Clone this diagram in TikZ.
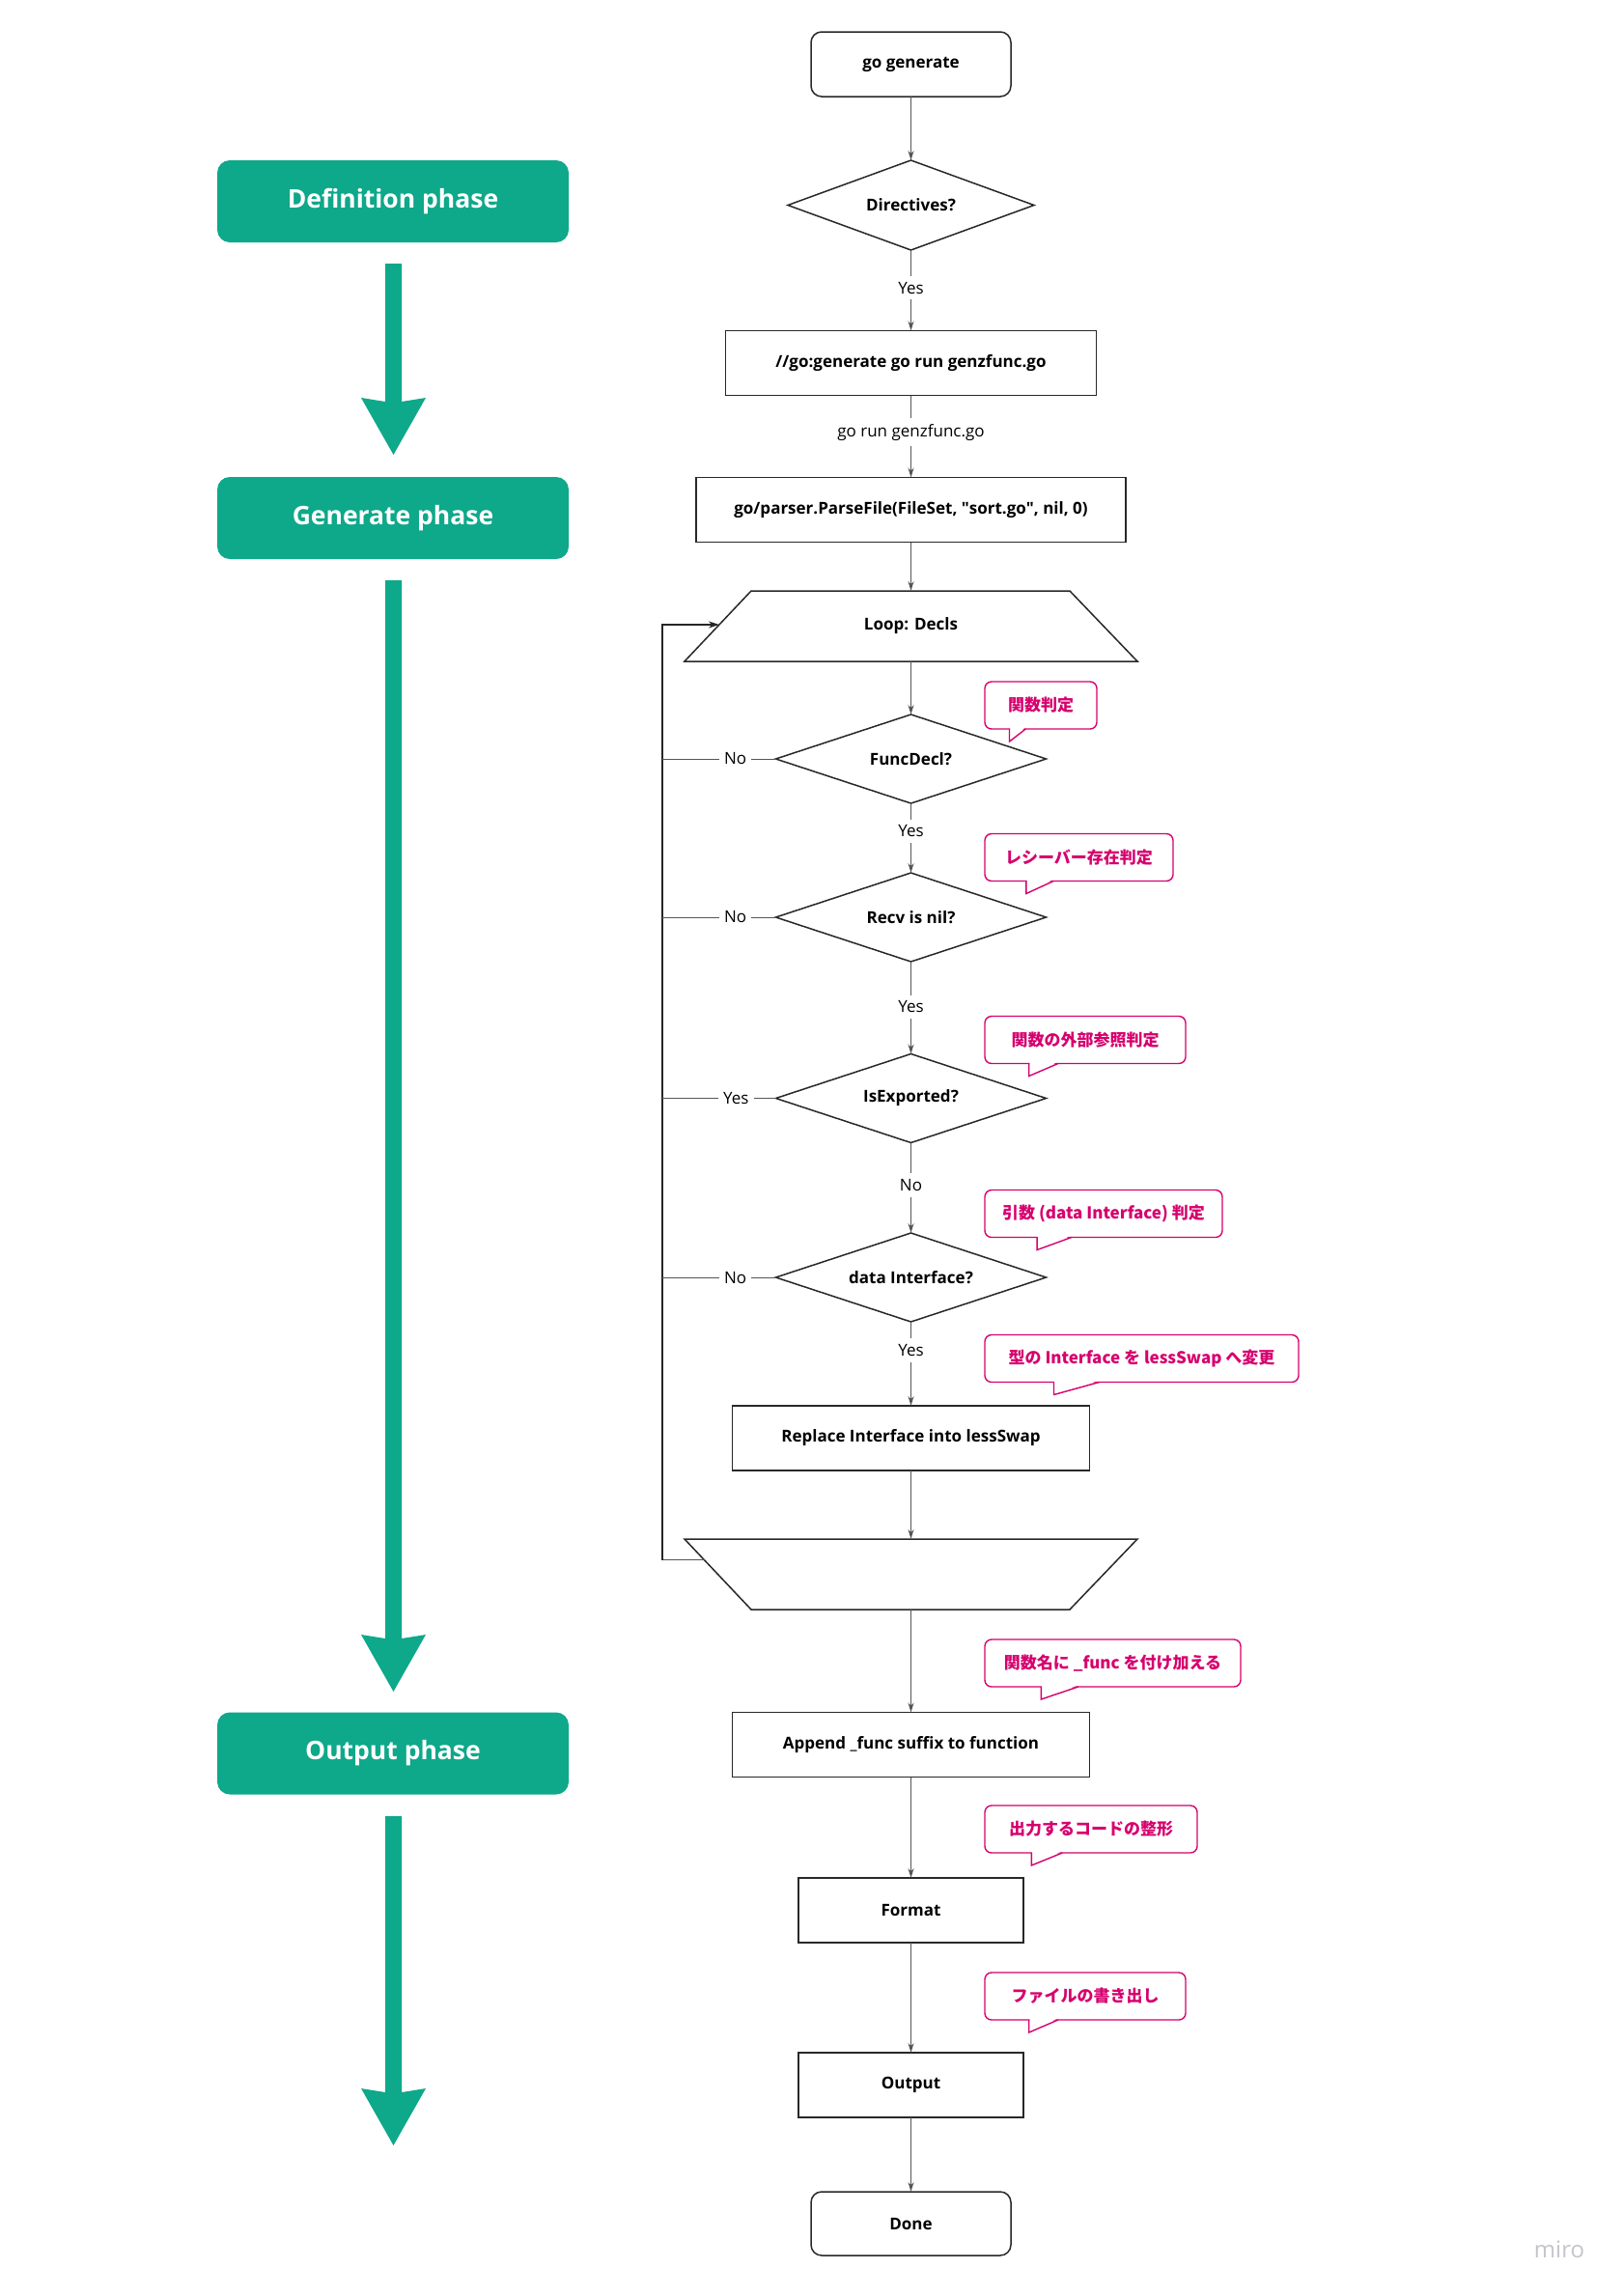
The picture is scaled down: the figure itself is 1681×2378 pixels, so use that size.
\documentclass[tikz,border=0pt]{standalone}
\usepackage{fontspec}
\setmainfont{Open Sans}
\newfontfamily\osq{Open Sans}
\newfontfamily\jp{Noto Sans CJK JP}
\usetikzlibrary{shapes.geometric,arrows.meta,calc}
\definecolor{miroGreen}{RGB}{14,168,138}
\definecolor{miroPink}{RGB}{214,0,110}
\definecolor{lineGray}{RGB}{85,85,85}
\definecolor{shapeLine}{RGB}{40,40,40}
\definecolor{logoGray}{RGB}{196,196,204}

\newcommand{\mkcallout}[4]{%
  \node[note, minimum width=#3pt] (#1) at (1020+#3/2,#2) {#4};
  \coordinate (#1-a) at ($(#1.south west)!0.22!(#1.south east)$);
  \coordinate (#1-b) at ($(#1.south west)!0.365!(#1.south east)$);
  \fill[white] ([xshift=0.8pt,yshift=1.5pt]#1-a) -- ([yshift=-13pt]#1-a) -- ([xshift=-0.8pt,yshift=1.5pt]#1-b) -- cycle;
  \draw[noteline] (#1-a) -- ([yshift=-13pt]#1-a) -- (#1-b);
}
\newcommand{\bigarrow}[2]{%
  \fill[miroGreen] (399,#1) -- (399,#2+4) -- (374,#2) -- (407.5,#2+59) -- (441,#2) -- (416,#2+4) -- (416,#1) -- cycle;
}

\begin{document}
\begin{tikzpicture}[x=1pt,y=-1pt,
  every node/.style={outer sep=0pt},
  boldtext/.style={font=\fontsize{17}{20}\selectfont\bfseries},
  proc/.style={draw=shapeLine, line width=1.5pt, fill=white, boldtext, inner sep=0pt},
  term/.style={proc, rounded corners=11pt},
  decision/.style={diamond, aspect=3, draw=shapeLine, line width=1.5pt, fill=white, boldtext, inner sep=0pt, minimum width=280pt, minimum height=92pt},
  flow/.style={draw=lineGray, line width=1pt, -{Stealth[length=10pt,width=6pt]}},
  branch/.style={draw=lineGray, line width=1pt},
  loopline/.style={draw=black!85, line width=1.5pt},
  lbl/.style={fill=white, text=black, font=\fontsize{17}{20}\selectfont, inner xsep=5pt, inner ysep=6pt},
  phase/.style={fill=miroGreen, rounded corners=13pt, text=white, font=\fontsize{26.5}{30}\selectfont\bfseries, minimum width=364pt, minimum height=85pt},
  note/.style={draw=miroPink, line width=1.4pt, rounded corners=7pt, fill=white, text=miroPink, font=\jp\bfseries\fontsize{17}{20}\selectfont, minimum height=49pt, inner sep=0pt},
  noteline/.style={draw=miroPink, line width=1.4pt, line join=miter},
  trap/.style={draw=shapeLine, line width=1.5pt, fill=white},
]
\useasboundingbox (0,0) rectangle (1681,2378);
\fill[white] (0,0) rectangle (1681,2378);

% ---------- phases ----------
\node[phase] (def) at (407,208.5) {Definition phase};
\node[phase] (gen) at (407,536.5) {Generate phase};
\node[phase] (outp) at (407,1816) {Output phase};
\bigarrow{273}{412}
\bigarrow{601}{1693}
\bigarrow{1881}{2163}

% ---------- flow nodes ----------
\node[term, minimum width=207pt, minimum height=67pt] (start) at (943.5,66.5) {go generate};
\node[decision, minimum width=255pt, minimum height=93pt] (dir) at (943.5,212.5) {Directives?};
\node[proc, minimum width=384pt, minimum height=67pt] (gogen) at (943.5,376) {//go:generate go run genzfunc.go};
\node[proc, minimum width=445pt, minimum height=67pt] (parse) at (943.5,528) {go/parser.ParseFile(FileSet, {\osq"}sort.go{\osq"}, nil, 0)};

% loop start trapezoid
\coordinate (lt1) at (778,612);
\coordinate (lt2) at (1108,612);
\coordinate (lt3) at (1178,685);
\coordinate (lt4) at (709,685);
\draw[trap] (lt1) -- (lt2) -- (lt3) -- (lt4) -- cycle;
\node[boldtext] (loop) at (943.5,648.5) {Loop: Decls};
\coordinate (loopTop) at (943.5,612);
\coordinate (loopBot) at (943.5,685);

\node[decision] (fd) at (943.5,786) {FuncDecl?};
\node[decision] (recv) at (943.5,950) {Recv is nil?};
\node[decision] (isexp) at (943.5,1137.5) {IsExported?};
\node[decision] (di) at (943.5,1323) {data Interface?};
\node[proc, minimum width=370pt, minimum height=67pt] (repl) at (943.5,1489.5) {Replace Interface into lessSwap};

% loop end trapezoid
\coordinate (et1) at (709,1594);
\coordinate (et2) at (1178,1594);
\coordinate (et3) at (1108,1667);
\coordinate (et4) at (778,1667);
\draw[trap] (et1) -- (et2) -- (et3) -- (et4) -- cycle;
\coordinate (endTop) at (943.5,1594);
\coordinate (endBot) at (943.5,1667);

\node[proc, minimum width=370pt, minimum height=67pt] (append) at (943.5,1807) {Append \_func suffix to function};
\node[proc, minimum width=233pt, minimum height=67pt] (format) at (943.5,1978.5) {Format};
\node[proc, minimum width=233pt, minimum height=67pt] (output) at (943.5,2159.5) {Output};
\node[term, minimum width=207pt, minimum height=66pt] (done) at (943.5,2303) {Done};

% ---------- connectors ----------
\draw[flow] (start.south) -- (dir.north);
\draw[flow] (dir.south) -- node[lbl, pos=0.47] {Yes} (gogen.north);
\draw[flow] (gogen.south) -- node[lbl, pos=0.45] {go run genzfunc.go} (parse.north);
\draw[flow] (parse.south) -- (loopTop);
\draw[flow] (loopBot) -- (fd.north);
\draw[flow] (fd.south) -- node[lbl, pos=0.40] {Yes} (recv.north);
\draw[flow] (recv.south) -- node[lbl, pos=0.49] {Yes} (isexp.north);
\draw[flow] (isexp.south) -- node[lbl, pos=0.47] {No} (di.north);
\draw[flow] (di.south) -- node[lbl, pos=0.34] {Yes} (repl.north);
\draw[flow] (repl.south) -- (endTop);
\draw[flow] (endBot) -- (append.north);
\draw[flow] (append.south) -- (format.north);
\draw[flow] (format.south) -- (output.north);
\draw[flow] (output.south) -- (done.north);

% loop back rail
\coordinate (rail) at (686,0);
\coordinate (loopIn) at ($(lt1)!0.479!(lt4)$);
\coordinate (endOut) at ($(et1)!0.30!(et4)$);
\draw[branch] (endOut) -- (rail |- endOut);
\draw[loopline, -{Stealth[length=11pt,width=7pt]}] (rail |- endOut) -- (rail |- loopIn) -- (loopIn);

\draw[branch] (fd.west) -- node[lbl, pos=0.356, inner ysep=2pt] {No} (rail |- fd.west);
\draw[branch] (recv.west) -- node[lbl, pos=0.356, inner ysep=2pt] {No} (rail |- recv.west);
\draw[branch] (isexp.west) -- node[lbl, pos=0.35, inner ysep=2pt] {Yes} (rail |- isexp.west);
\draw[branch] (di.west) -- node[lbl, pos=0.356, inner ysep=2pt] {No} (rail |- di.west);

% ---------- callouts ----------
\mkcallout{n1}{730.5}{116}{関数判定}
\mkcallout{n2}{888}{195}{レシーバー存在判定}
\mkcallout{n3}{1077}{208}{関数の外部参照判定}
\mkcallout{n4}{1257}{246}{引数 (data Interface) 判定}
\mkcallout{n5}{1407}{325}{型の Interface を lessSwap へ変更}
\mkcallout{n6}{1722.5}{265}{関数名に \_func を付け加える}
\mkcallout{n7}{1894.5}{220}{出力するコードの整形}
\mkcallout{n8}{2067.5}{208}{ファイルの書き出し}

% ---------- watermark ----------
\node[text=logoGray, font=\fontsize{24}{28}\selectfont] (logo) at (1615,2330) {miro};
\end{tikzpicture}
\end{document}
